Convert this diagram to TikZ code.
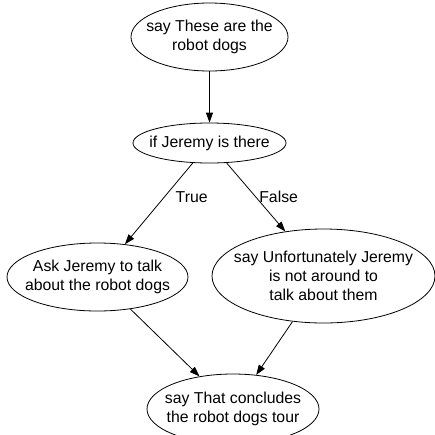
\documentclass[tikz,border=0pt]{standalone}
\usepackage{fontspec}
\setmainfont{Liberation Sans}
\usetikzlibrary{shapes.geometric,arrows.meta}
\begin{document}
\begin{tikzpicture}[x=1pt,y=-1pt,
  every node/.style={font=\fontsize{15.8}{19}\selectfont},
  st/.style={draw,ellipse,inner sep=0pt,line width=0.8pt},
  txt/.style={align=center,inner sep=0pt},
  lbl/.style={inner sep=0pt,anchor=west},
  arr/.style={draw,line width=0.8pt,-{Triangle[length=10pt,width=7pt]}}]
\useasboundingbox (0,0) rectangle (435,434);
\node[st,minimum width=157,minimum height=68] (n1) at (209.5,37) {};
\node[st,minimum width=153,minimum height=40] (n2) at (209.5,143) {};
\node[st,minimum width=181,minimum height=68] (n3) at (97.5,277) {};
\node[st,minimum width=223,minimum height=94] (n4) at (323.5,276) {};
\node[st,minimum width=172,minimum height=70] (n5) at (233,409) {};
\node[txt] (t1) at (n1) {say These are the\\robot dogs};
\node[txt] (t2) at (n2) {if Jeremy is there};
\node[txt] (t3) at (n3) {Ask Jeremy to talk\\about the robot dogs};
\node[txt] (t4) at (n4) {say Unfortunately Jeremy\\is not around to\\talk about them};
\node[txt] (t5) at (n5) {say That concludes\\the robot dogs tour};
\draw[arr] (n1) -- (n2);
\draw[arr] (n2) -- node[lbl,pos=0.42,xshift=11pt] {True} (n3);
\draw[arr] (n2) -- node[lbl,pos=0.5,xshift=3pt] {False} (n4);
\draw[arr] (n3) -- (n5);
\draw[arr] (n4) -- (n5);
\end{tikzpicture}
\end{document}
